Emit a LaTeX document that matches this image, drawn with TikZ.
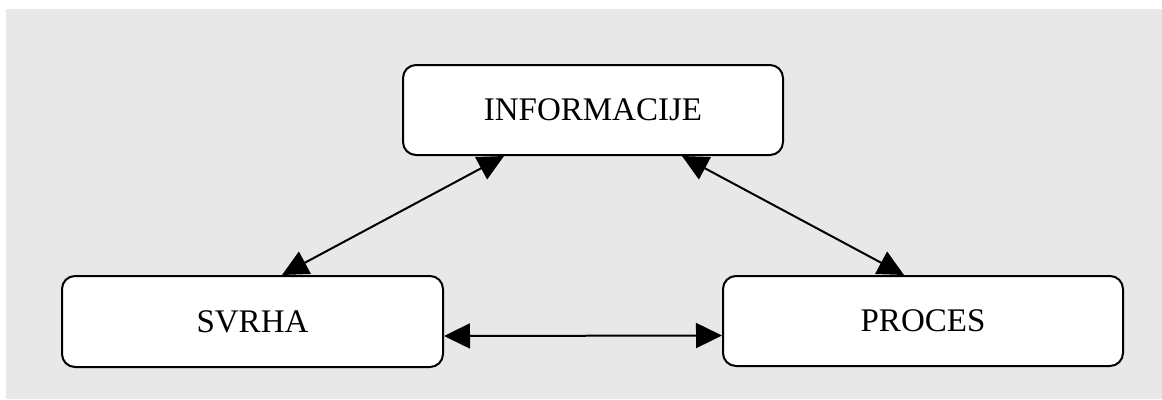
\documentclass[tikz,border=0pt]{standalone}
\usepackage{fontspec}
\setmainfont{Liberation Serif}
\usetikzlibrary{arrows.meta}
\definecolor{bggray}{HTML}{E8E8E8}
\tikzset{
  box/.style={draw=black, fill=white, line width=2pt, rounded corners=13pt,
    inner sep=0pt, font=\fontsize{33}{40}\selectfont},
  link/.style={line width=2pt, {Triangle[length=26pt,width=25pt]}-{Triangle[length=26pt,width=25pt]}}
}
\begin{document}
\begin{tikzpicture}[x=1pt,y=-1pt]
\useasboundingbox (0,0) rectangle (1162,399);
\fill[bggray] (6,9) rectangle (1162,399);
\node[box, minimum width=380pt, minimum height=90pt] (info) at (593,110) {INFORMACIJE};
\node[box, minimum width=381pt, minimum height=91pt] (svrha) at (252.5,321.5) {SVRHA};
\node[box, minimum width=400pt, minimum height=90pt] (proces) at (923,321) {PROCES};
\draw[link] ([xshift=29.5pt]svrha.north) -- ([xshift=-89pt]info.south);
\draw[link] ([xshift=89pt]info.south) -- ([xshift=-19pt]proces.north);
\draw[link] ([yshift=-14.5pt]svrha.east) -- ([yshift=-14.5pt]proces.west);
\end{tikzpicture}
\end{document}
